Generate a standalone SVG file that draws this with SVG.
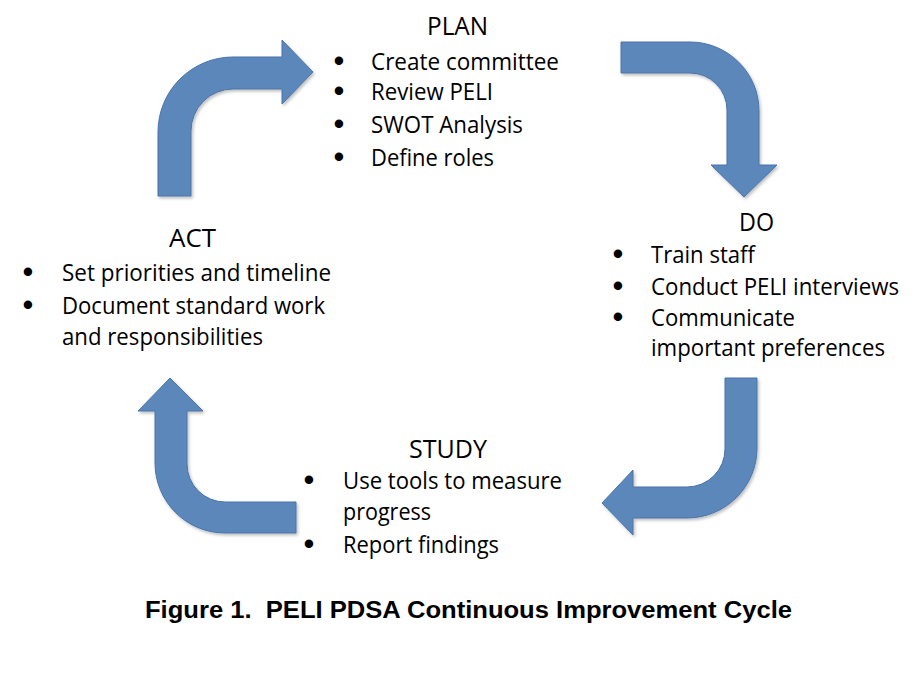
<svg xmlns="http://www.w3.org/2000/svg" width="922" height="674" viewBox="0 0 922 674">
  <style>
    .bg { fill: #ffffff; }
    .arrow { fill: #5b87bb; stroke: #4a75a9; stroke-width: 1; stroke-linejoin: miter; filter: url(#shadow); }
    .head { font-family: "Open Sans", "Noto Sans", sans-serif; font-size: 26px; fill: #000; }
    .item { font-family: "Open Sans", "Noto Sans", sans-serif; font-size: 23px; fill: #000; }
    .bullet { font-family: "Liberation Sans", Arial, sans-serif; font-size: 31px; fill: #000; text-anchor: middle; }
    .caption { font-family: "Liberation Sans", Arial, sans-serif; font-size: 23px; font-weight: bold; fill: #000; white-space: pre; }
  </style>
  <defs>
    <filter id="shadow" x="-10%" y="-10%" width="130%" height="130%">
      <feDropShadow dx="1.5" dy="2" stdDeviation="1.8" flood-color="#000" flood-opacity="0.25"/>
    </filter>
  </defs>
  <rect class="bg" x="0" y="0" width="922" height="674"/>

  <g id="connectors">
    <path id="arrow-act-plan" class="arrow" d="M158,196 L158,132 A75,75 0 0 1 233,57 L282,57 L282,40 L313,72 L282,104 L282,89 L233,89 A42,42 0 0 0 191,131 L191,196 Z"/>
    <path id="arrow-plan-do" class="arrow" d="M621,42 L690,42 A69,69 0 0 1 759,111 L759,165 L777,165 L744,197 L711,165 L727,165 L727,110 A37,37 0 0 0 690,73 L621,73 Z"/>
    <path id="arrow-do-study" class="arrow" d="M725,378 L757,378 L757,448 A70,70 0 0 1 687,518 L633,518 L633,535 L602,503 L633,470 L633,487 L687,487 A38,38 0 0 0 725,449 Z"/>
    <path id="arrow-study-act" class="arrow" d="M296,502 L296,533 L225,533 A70,70 0 0 1 155,463 L155,411 L138,411 L170,378 L203,411 L187,411 L187,464 A38,38 0 0 0 225,502 Z"/>
  </g>

  <g id="plan">
    <text class="head" x="427" y="35" textLength="61" lengthAdjust="spacingAndGlyphs">PLAN</text>
    <text class="bullet" x="339" y="71">•</text>
    <text class="item" x="371" y="70" textLength="188" lengthAdjust="spacingAndGlyphs">Create committee</text>
    <text class="bullet" x="339" y="101">•</text>
    <text class="item" x="371" y="100" textLength="122" lengthAdjust="spacingAndGlyphs">Review PELI</text>
    <text class="bullet" x="339" y="134">•</text>
    <text class="item" x="371" y="133" textLength="152" lengthAdjust="spacingAndGlyphs">SWOT Analysis</text>
    <text class="bullet" x="339" y="167">•</text>
    <text class="item" x="371" y="166" textLength="123" lengthAdjust="spacingAndGlyphs">Define roles</text>
  </g>

  <g id="do">
    <text class="head" x="739" y="231" textLength="35" lengthAdjust="spacingAndGlyphs">DO</text>
    <text class="bullet" x="618" y="264">•</text>
    <text class="item" x="651" y="263" textLength="104" lengthAdjust="spacingAndGlyphs">Train staff</text>
    <text class="bullet" x="618" y="296">•</text>
    <text class="item" x="651" y="295" textLength="248" lengthAdjust="spacingAndGlyphs">Conduct PELI interviews</text>
    <text class="bullet" x="618" y="327">•</text>
    <text class="item" x="651" y="326" textLength="144" lengthAdjust="spacingAndGlyphs">Communicate</text>
    <text class="item" x="651" y="356" textLength="234" lengthAdjust="spacingAndGlyphs">important preferences</text>
  </g>

  <g id="study">
    <text class="head" x="409" y="458" textLength="78" lengthAdjust="spacingAndGlyphs">STUDY</text>
    <text class="bullet" x="309" y="490">•</text>
    <text class="item" x="343" y="489" textLength="219" lengthAdjust="spacingAndGlyphs">Use tools to measure</text>
    <text class="item" x="343" y="520" textLength="88" lengthAdjust="spacingAndGlyphs">progress</text>
    <text class="bullet" x="309" y="554">•</text>
    <text class="item" x="343" y="553" textLength="156" lengthAdjust="spacingAndGlyphs">Report findings</text>
  </g>

  <g id="act">
    <text class="head" x="169" y="247" textLength="47" lengthAdjust="spacingAndGlyphs">ACT</text>
    <text class="bullet" x="28" y="282">•</text>
    <text class="item" x="62" y="281" textLength="269" lengthAdjust="spacingAndGlyphs">Set priorities and timeline</text>
    <text class="bullet" x="28" y="315">•</text>
    <text class="item" x="62" y="314" textLength="263" lengthAdjust="spacingAndGlyphs">Document standard work</text>
    <text class="item" x="62" y="345" textLength="201" lengthAdjust="spacingAndGlyphs">and responsibilities</text>
  </g>

  <g id="caption">
    <text class="caption" x="145" y="618" textLength="647" lengthAdjust="spacingAndGlyphs">Figure 1.  PELI PDSA Continuous Improvement Cycle</text>
  </g>
</svg>
